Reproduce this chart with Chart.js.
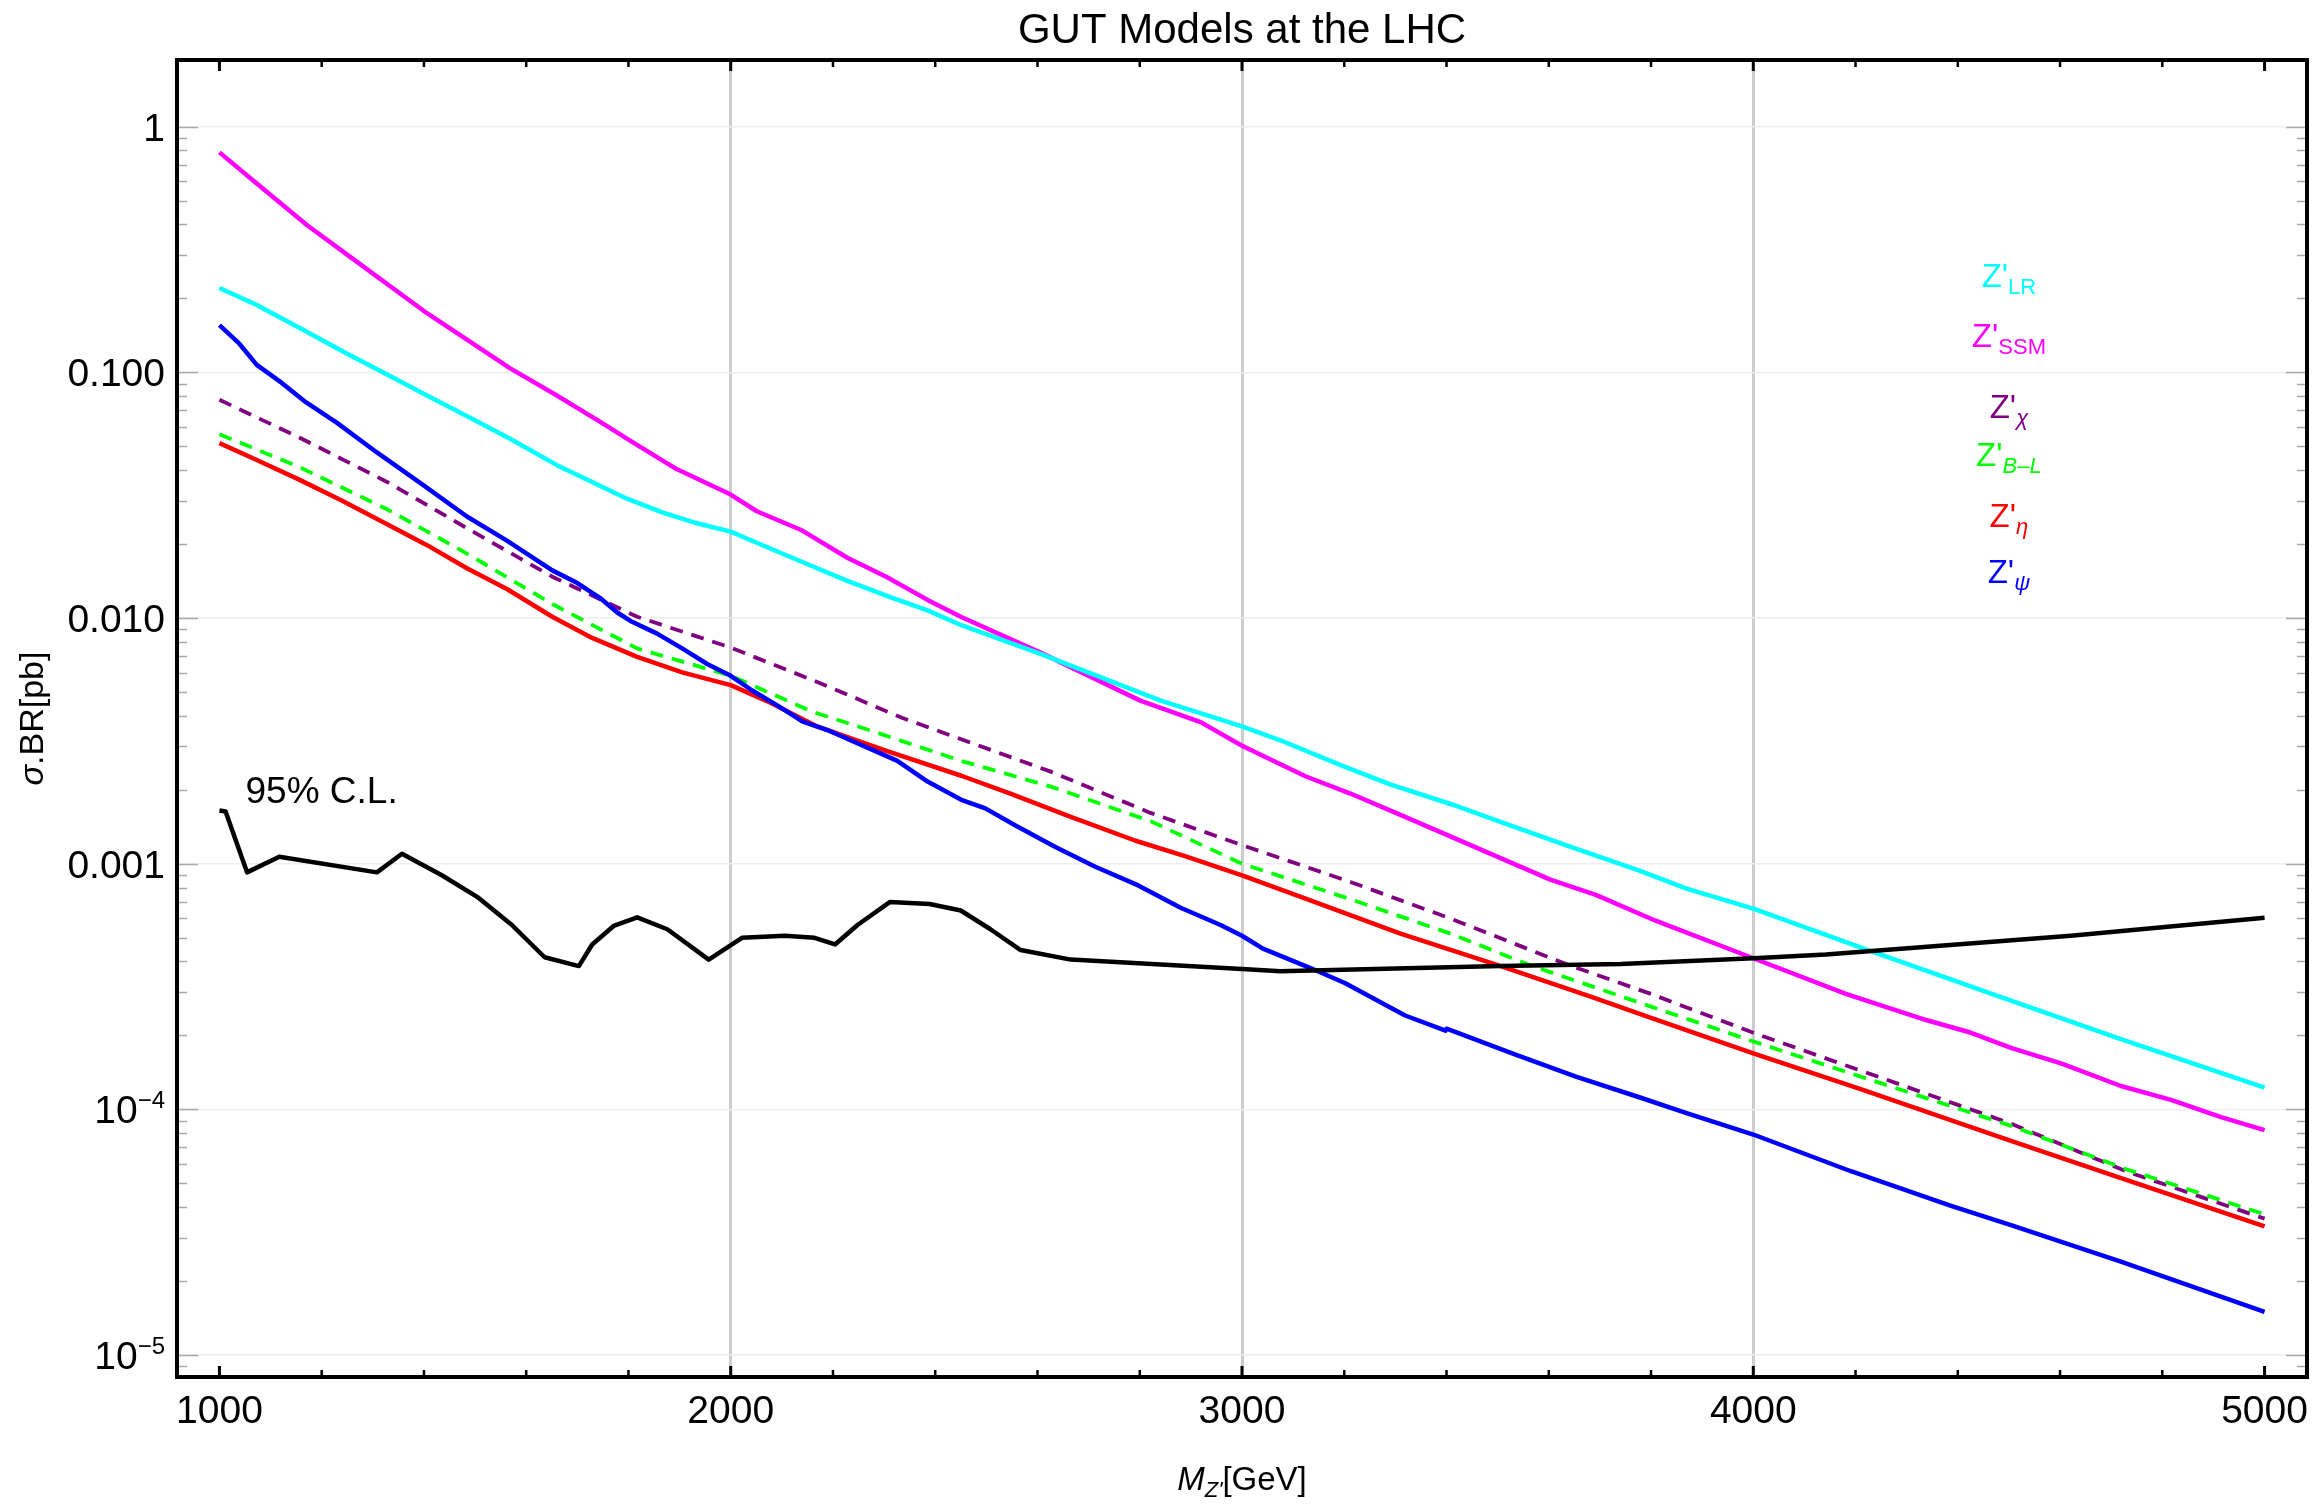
<!DOCTYPE html>
<html><head><meta charset="utf-8">
<script src="https://cdn.jsdelivr.net/npm/chart.js@4.4.0/dist/chart.umd.min.js"></script>
<style>html,body{margin:0;padding:0;background:#fff;}canvas{display:block;}</style>
</head><body>
<canvas id="c" width="2317" height="1507"></canvas>
<script>
// ---------------- data ----------------
const ssmMass = [1000,1073,1171,1249,1406,1568,1660,1748,1807,1895,2000,2051,2140,2228,2305,2385,2451,2606,2801,2919,3000,3124,3212,3310,3447,3603,3692,3809,3995,4181,4338,4426,4504,4602,4719,4817,4915,5000];
const ssmXsec = [0.786,0.587,0.398,0.302,0.174,0.104,0.0805,0.0623,0.0521,0.0403,0.0318,0.0272,0.0227,0.0176,0.0147,0.01185,0.0101,0.00723,0.00461,0.00377,0.00302,0.00227,0.00193,0.00158,0.00119,0.000861,0.000747,0.000586,0.000416,0.000295,0.000231,0.000205,0.000178,0.000154,0.0001245,0.0001093,0.000093,0.0000823];

const lrMass = [1000,1073,1157,1249,1328,1406,1494,1572,1660,1729,1797,1866,1934,2000,2052,2140,2228,2316,2385,2451,2606,2841,3000,3075,3193,3291,3408,3526,3643,3780,3868,4000,4230,4396,4504,4719,5000];
const lrXsec = [0.2203,0.188,0.1514,0.1194,0.098,0.0805,0.0648,0.0532,0.0419,0.0358,0.0306,0.0269,0.0243,0.02247,0.0202,0.0169,0.01416,0.01209,0.01074,0.00935,0.00715,0.00461,0.00362,0.00318,0.00252,0.0021,0.00175,0.00143,0.00117,0.000933,0.000794,0.000656,0.000441,0.000333,0.000277,0.000193,0.0001225];

const chiMass = [1000,1157,1328,1484,1651,1817,2000,2159,2336,2451,2626,2821,3000,3212,3408,3633,3800,4000,4504,4728,5000];
const chiXsec = [0.0773,0.0542,0.0358,0.0232,0.01473,0.01012,0.00758,0.0056,0.00392,0.00321,0.00237,0.00161,0.00119,0.000843,0.000598,0.000391,0.000295,0.000205,0.0000875,0.0000561,0.0000359];

const blMass = [1000,1157,1328,1484,1651,1817,2000,2159,2287,2451,2626,2821,3000,3212,3408,3565,3800,4000,4504,4728,5000];
const blXsec = [0.056,0.0411,0.0277,0.0183,0.0114,0.00752,0.00582,0.00416,0.00341,0.00262,0.00206,0.00149,0.001,0.000717,0.000519,0.000385,0.000262,0.000189,0.0000857,0.0000572,0.0000374];

const etaMass = [1000,1073,1157,1240,1328,1406,1484,1563,1651,1729,1817,1905,2000,2071,2169,2306,2451,2547,2665,2792,2890,3000,3115,3310,3506,3682,3800,4000,4210,4504,4728,5000];
const etaXsec = [0.0515,0.044,0.0365,0.03,0.0241,0.0198,0.01594,0.0131,0.01012,0.0083,0.00695,0.00601,0.00533,0.00459,0.00362,0.00287,0.00228,0.00193,0.00155,0.00124,0.00107,0.000897,0.000733,0.000519,0.000383,0.000288,0.000236,0.000169,0.000121,0.0000745,0.0000518,0.0000334];

const psiMass = [1000,1039,1073,1122,1166,1230,1308,1396,1484,1563,1651,1700,1744,1778,1807,1856,1905,1954,2000,2042,2091,2140,2189,2326,2385,2451,2498,2557,2635,2713,2797,2880,2958,3000,3041,3134,3202,3319,3398,3400,3535,3653,3780,3868,4000,4191,4387,4504,4719,5000];
const psiXsec = [0.1556,0.1308,0.1073,0.0906,0.0764,0.0623,0.0472,0.0351,0.0259,0.0206,0.01563,0.01388,0.01209,0.01053,0.00965,0.00864,0.00752,0.0065,0.00582,0.00507,0.00441,0.0038,0.0035,0.00262,0.00216,0.00182,0.00168,0.00143,0.00117,0.000972,0.000816,0.000662,0.000563,0.000509,0.000451,0.000376,0.000326,0.000241,0.000209,0.000213,0.000167,0.000136,0.0001115,0.0000968,0.000079,0.000056,0.0000405,0.0000338,0.000024,0.000015];

const clMass = [1000,1012,1054,1117,1308,1357,1435,1504,1572,1636,1703,1729,1771,1817,1876,1957,2022,2106,2164,2204,2248,2311,2389,2450,2508,2567,2665,3000,3075,3506,3741,4000,4142,4621,5000];
const clXsec = [0.001645,0.00163,0.000922,0.001067,0.000922,0.001097,0.000897,0.000733,0.000563,0.000416,0.000383,0.000469,0.000558,0.000605,0.000541,0.000407,0.000499,0.000509,0.000499,0.000469,0.000563,0.000698,0.000685,0.000645,0.000541,0.000445,0.000407,0.000373,0.000365,0.000383,0.000391,0.000412,0.000427,0.000509,0.000603];

const xTickValues = [1000,2000,3000,4000,5000];
const xTickLabels = ['1000','2000','3000','4000','5000'];
const xGridValues = [2000,3000,4000];
const yTickValues = [1,0.1,0.01,0.001,1e-4,1e-5];
const yTickLabels = ['1','0.100','0.010','0.001','10^\u22124','10^\u22125'];

const titleText = 'GUT Models at the LHC';
const clLabel = '95% C.L.';
const curveLabelMain = ["Z'","Z'","Z'","Z'","Z'","Z'"];
const curveLabelSub  = ['LR','SSM','\u03C7','B\u2013L','\u03B7','\u03C8'];
const curveLabelSubItalic = [false,false,true,true,true,true];
const curveLabelColor = ['#00ffff','#ff00ff','#800080','#00ff00','#ff0000','#0000ff'];
// annotation anchors in data coordinates (mass, sigma.BR baseline)
const curveLabelX = 4500;
const curveLabelY = [0.2227,0.1263,0.0652,0.0416,0.0235,0.0139];
const clLabelPos = {x:1051, y:0.00176};

// ---------------- chart ----------------
const FONT = '"Liberation Sans", Arial, Helvetica, sans-serif';
function pts(xs, ys){ return xs.map((x,i)=>({x:x, y:ys[i]})); }

function drawRich(ctx, segs, x, y, align){
  let w = 0;
  segs.forEach(s=>{ ctx.font = s.font; s.w = ctx.measureText(s.text).width; w += s.w; });
  let cx = align==='center' ? x - w/2 : (align==='right' ? x - w : x);
  ctx.textAlign = 'left';
  segs.forEach(s=>{ ctx.font = s.font; ctx.fillText(s.text, cx, y + (s.dy||0)); cx += s.w; });
}

const framePlugin = {
  id:'frame',
  afterDraw(chart){
    const ctx = chart.ctx, a = chart.chartArea, xs = chart.scales.x, ys = chart.scales.y;
    ctx.save();
    // y ticks (gray), both sides
    ctx.strokeStyle = '#a8a8a8'; ctx.lineWidth = 1.5;
    for (let d=-6; d<=0; d++){
      for (let k=1; k<=9; k++){
        const v = k*Math.pow(10,d);
        if (v < ys.min || v > ys.max) continue;
        const py = Math.round(ys.getPixelForValue(v)) + 0.5;
        const len = k===1 ? 21 : 10;
        ctx.beginPath();
        ctx.moveTo(a.left, py); ctx.lineTo(a.left+len, py);
        ctx.moveTo(a.right, py); ctx.lineTo(a.right-len, py);
        ctx.stroke();
      }
    }
    // x ticks (black), bottom & top
    ctx.strokeStyle = '#000';
    for (let v=1000; v<=5000; v+=200){
      const px = xs.getPixelForValue(v);
      const major = (v % 1000) === 0;
      ctx.lineWidth = major ? 3 : 2.5;
      const len = major ? 11 : 7;
      ctx.beginPath();
      ctx.moveTo(px, a.bottom); ctx.lineTo(px, a.bottom-len);
      ctx.moveTo(px, a.top); ctx.lineTo(px, a.top+len);
      ctx.stroke();
    }
    // frame
    ctx.lineWidth = 4; ctx.strokeStyle = '#000';
    ctx.strokeRect(a.left, a.top, a.right-a.left, a.bottom-a.top);

    ctx.fillStyle = '#000';
    ctx.textBaseline = 'alphabetic';
    xTickValues.forEach((v,i)=>{
      drawRich(ctx, [{text:xTickLabels[i], font:'39px '+FONT}], xs.getPixelForValue(v), a.bottom+46, 'center');
    });
    yTickValues.forEach((v,i)=>{
      const py = ys.getPixelForValue(v);
      const lab = yTickLabels[i];
      let segs;
      if (lab.indexOf('^')>=0){
        const p = lab.split('^');
        segs = [{text:p[0], font:'39px '+FONT},{text:p[1], font:'24px '+FONT, dy:-15}];
      } else segs = [{text:lab, font:'39px '+FONT}];
      drawRich(ctx, segs, a.left-12, py+14, 'right');
    });
    // title
    drawRich(ctx, [{text:titleText, font:'42px '+FONT}], (a.left+a.right)/2, 43, 'center');
    // x axis title
    drawRich(ctx, [{text:'M', font:'italic 33px '+FONT},{text:"Z'", font:'italic 22px '+FONT, dy:7},{text:'[GeV]', font:'33px '+FONT}], (a.left+a.right)/2, 1490, 'center');
    // y axis title
    ctx.save();
    ctx.translate(43, (a.top+a.bottom)/2);
    ctx.rotate(-Math.PI/2);
    drawRich(ctx, [{text:'\u03C3', font:'italic 34px '+FONT},{text:'.BR[pb]', font:'34px '+FONT}], 0, 0, 'center');
    ctx.restore();
    // 95% C.L.
    drawRich(ctx, [{text:clLabel, font:'37px '+FONT}], xs.getPixelForValue(clLabelPos.x), ys.getPixelForValue(clLabelPos.y), 'left');
    // curve labels
    curveLabelMain.forEach((m,i)=>{
      ctx.fillStyle = curveLabelColor[i];
      drawRich(ctx, [{text:m, font:'33px '+FONT},{text:curveLabelSub[i], font:(curveLabelSubItalic[i]?'italic ':'')+'22px '+FONT, dy:7}],
        xs.getPixelForValue(curveLabelX), ys.getPixelForValue(curveLabelY[i]), 'center');
    });
    ctx.restore();
  }
};

function ds(label, xs, ys, color, dash, width){
  return {label:label, data:pts(xs,ys), borderColor:color, backgroundColor:color, borderWidth:width||4.5,
          borderDash:dash||[], pointRadius:0, fill:false, tension:0};
}

new Chart(document.getElementById('c').getContext('2d'), {
  type:'line',
  data:{ datasets:[
    ds('95% C.L.', clMass, clXsec, '#000000'),
    ds("Z'LR", lrMass, lrXsec, '#00ffff'),
    ds("Z'SSM", ssmMass, ssmXsec, '#ff00ff'),
    ds("Z'psi", psiMass, psiXsec, '#0000ff'),
    ds("Z'eta", etaMass, etaXsec, '#ff0000'),
    ds("Z'B-L", blMass, blXsec, '#00ff00', [13,9], 3.8),
    ds("Z'chi", chiMass, chiXsec, '#800080', [13,9], 3.8)
  ]},
  options:{
    responsive:false, animation:false, devicePixelRatio:1,
    layout:{padding:{left:177, right:10, top:60, bottom:130}},
    plugins:{legend:{display:false}, tooltip:{enabled:false}, title:{display:false}},
    elements:{line:{borderJoinStyle:'round', borderCapStyle:'butt'}},
    scales:{
      x:{type:'linear', min:917, max:5083, border:{display:false},
         grid:{drawTicks:false, lineWidth:3, color:(c)=> xGridValues.includes(c.tick && c.tick.value) ? 'rgb(204,204,204)' : 'rgba(0,0,0,0)'},
         ticks:{display:false},
         afterBuildTicks:(s)=>{ s.ticks = xTickValues.map(v=>({value:v})); }},
      y:{type:'logarithmic', min:8.14e-6, max:1.868, border:{display:false},
         grid:{drawTicks:false, lineWidth:1.5, color:'#eeeeee'},
         ticks:{display:false},
         afterBuildTicks:(s)=>{ s.ticks = yTickValues.map(v=>({value:v})); }}
    }
  },
  plugins:[framePlugin]
});
</script>
</body></html>
